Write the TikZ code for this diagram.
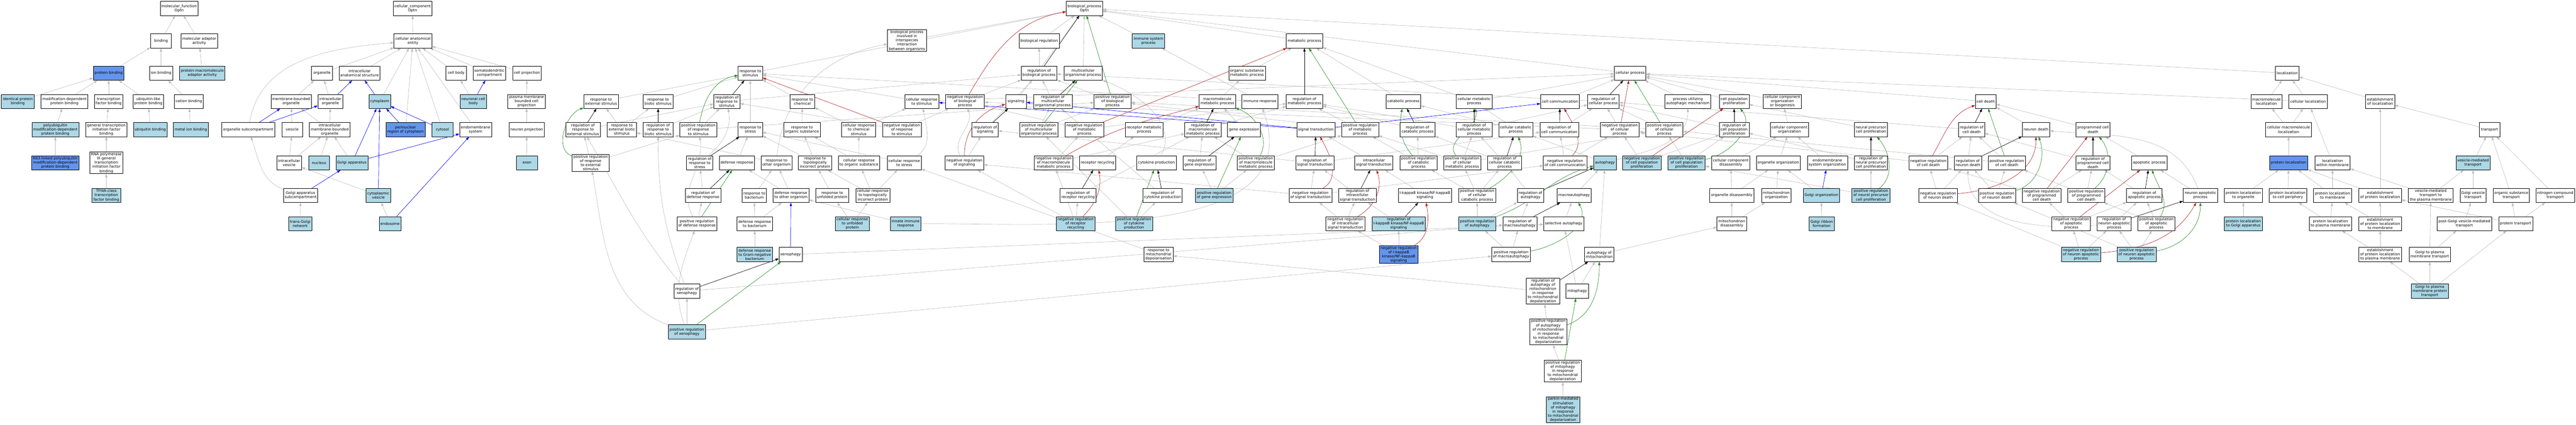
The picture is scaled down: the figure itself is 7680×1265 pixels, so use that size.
\documentclass[tikz,border=0pt]{standalone}
\usepackage{fontspec}
\newfontfamily\gofont{DejaVu Sans}
\usetikzlibrary{arrows.meta,backgrounds}
\definecolor{lblue}{HTML}{ADD8E6}
\definecolor{dblue}{HTML}{6495ED}
\definecolor{egrey}{HTML}{BEBEBE}
\definecolor{egreen}{HTML}{228B22}
\definecolor{ereddish}{HTML}{B22222}
\definecolor{eblue}{HTML}{0000FF}
\begin{document}
\begin{tikzpicture}[x=1pt,y=1pt,
  gobox/.style={draw=black,line width=1pt,rectangle,align=center,
    font={\gofont\fontsize{11}{12.5}\selectfont},inner xsep=4pt,inner ysep=2pt,
    minimum height=42pt,minimum width=62pt},
  nw/.style={gobox,fill=white},
  nlb/.style={gobox,fill=lblue},
  ndb/.style={gobox,fill=dblue},
  edgebase/.style={line width=1pt,-{Triangle[length=10pt,width=7pt]}},
  egr/.style={edgebase,draw=egrey},
  eblu/.style={edgebase,draw=eblue},
  eblk/.style={edgebase,draw=black},
  egrn/.style={edgebase,draw=egreen},
  ered/.style={edgebase,draw=ereddish}]
\useasboundingbox (0,0) rectangle (7680,-1265);
% ---------------- molecular function
\node[nw] (mf) at (534,-25) {molecular\_function\\Optn};
\node[nw] (bind) at (480,-122) {binding};
\node[nw] (mad) at (594,-122) {molecular adaptor\\activity};
\node[ndb] (pb) at (324,-218) {protein binding};
\node[nw] (ionb) at (480,-218) {ion binding};
\node[nlb] (pma) at (603,-218) {protein-macromolecule\\adaptor activity};
\node[nlb] (ipb) at (53,-302) {identical protein\\binding};
\node[nw] (mdpb) at (192,-302) {modification-dependent\\protein binding};
\node[nw] (tfb) at (324,-302) {transcription\\factor binding};
\node[nw] (ulpb) at (442,-302) {ubiquitin-like\\protein binding};
\node[nw] (catb) at (563,-302) {cation binding};
\node[nlb] (pumd) at (165,-386) {polyubiquitin\\modification-dependent\\protein binding};
\node[nw] (gtif) at (317,-386) {general transcription\\initiation factor\\binding};
\node[nlb] (ubb) at (448,-386) {ubiquitin binding};
\node[nlb] (mib) at (569,-386) {metal ion binding};
\node[ndb] (k63) at (165,-485) {K63-linked polyubiquitin\\modification-dependent\\protein binding};
\node[nw] (rp3) at (317,-485) {RNA polymerase\\III general\\transcription\\initiation factor\\binding};
\node[nlb] (tf3) at (317,-582) {TFIIIA-class\\transcription\\factor binding};
% ---------------- cellular component
\node[nw] (cc) at (1230,-25) {cellular\_component\\Optn};
\node[nw] (cae) at (1231,-122) {cellular anatomical\\entity};
\node[nw] (org) at (960,-218) {organelle};
\node[nw] (ias) at (1072,-218) {intracellular\\anatomical structure};
\node[nw] (cbody) at (1360,-218) {cell body};
\node[nw] (sdc) at (1459,-218) {somatodendritic\\compartment};
\node[nw] (cproj) at (1571,-218) {cell projection};
\node[nw] (mbo) at (868,-302) {membrane-bounded\\organelle};
\node[nw] (io) at (985,-302) {intracellular\\organelle};
\node[nlb] (cyto) at (1132,-302) {cytoplasm};
\node[nlb] (ncb) at (1411,-302) {neuronal cell\\body};
\node[nw] (pmbcp) at (1570,-302) {plasma membrane\\bounded cell\\projection};
\node[nw] (osc) at (740,-386) {organelle subcompartment};
\node[nw] (ves) at (871,-386) {vesicle};
\node[nw] (imbo) at (983,-386) {intracellular\\membrane-bounded\\organelle};
\node[ndb] (pnr) at (1209,-386) {perinuclear\\region of cytoplasm};
\node[nlb] (cytosol) at (1319,-386) {cytosol};
\node[nw] (ems) at (1418,-386) {endomembrane\\system};
\node[nw] (np) at (1570,-386) {neuron projection};
\node[nw] (iv) at (862,-485) {intracellular\\vesicle};
\node[nlb] (nuc) at (951,-485) {nucleus};
\node[nlb] (ga) at (1049,-485) {Golgi apparatus};
\node[nlb] (axon) at (1571,-485) {axon};
\node[nw] (gas) at (896,-582) {Golgi apparatus\\subcompartment};
\node[nlb] (cv) at (1128,-582) {cytoplasmic\\vesicle};
\node[nlb] (tgn) at (895,-666) {trans-Golgi\\network};
\node[nlb] (endo) at (1163,-666) {endosome};
% ---------------- biological process
\node[nw] (rext) at (1792,-302) {response to\\external stimulus};
\node[nw] (rrext) at (1738,-386) {regulation of\\response to\\external stimulus};
\node[nw] (rebs) at (1854,-386) {response to\\external biotic\\stimulus};
\node[nw] (prrext) at (1761,-485) {positive regulation\\of response\\to external\\stimulus};
\node[nw] (rbs) at (1962,-302) {response to\\biotic stimulus};
\node[nw] (rrbs) at (1962,-386) {regulation of\\response to\\biotic stimulus};
\node[nw] (rs) at (2237,-218) {response to\\stimulus};
\node[nw] (rrs) at (2167,-302) {regulation of\\response to\\stimulus};
\node[nw] (rchem) at (2392,-302) {response to\\chemical};
\node[nw] (crchem) at (2560,-386) {cellular response\\to chemical\\stimulus};
\node[nw] (prrs) at (2082,-386) {positive regulation\\of response\\to stimulus};
\node[nw] (rstress) at (2237,-386) {response to\\stress};
\node[nw] (ros) at (2391,-386) {response to\\organic substance};
\node[nw] (rrstress) at (2086,-485) {regulation of\\response to\\stress};
\node[nw] (dr) at (2197,-485) {defense response};
\node[nw] (roo) at (2315,-485) {response to\\other organism};
\node[nw] (rtip) at (2430,-485) {response to\\topologically\\incorrect protein};
\node[nw] (cros) at (2561,-485) {cellular response\\to organic substance};
\node[nw] (rdr) at (2096,-582) {regulation of\\defense response};
\node[nw] (rbac) at (2249,-582) {response to\\bacterium};
\node[nw] (droo) at (2358,-582) {defense response\\to other organism};
\node[nw] (rup) at (2481,-582) {response to\\unfolded protein};
\node[nw] (crtip) at (2602,-582) {cellular response\\to topologically\\incorrect protein};
\node[nw] (prdr) at (2078,-666) {positive regulation\\of defense response};
\node[nw] (drbac) at (2250,-666) {defense response\\to bacterium};
\node[nlb] (crup) at (2541,-666) {cellular response\\to unfolded\\protein};
\node[nlb] (drgn) at (2250,-758) {defense response\\to Gram-negative\\bacterium};
\node[nw] (xeno) at (2357,-758) {xenophagy};
\node[nw] (rxeno) at (2048,-867) {regulation of\\xenophagy};
\node[nlb] (pxeno) at (2048,-988) {positive regulation\\of xenophagy};
\node[nw] (bp) at (3233,-25) {biological\_process\\Optn};
\node[nw] (bpii) at (2704,-121) {biological process\\involved in\\interspecies\\interaction\\between organisms};
\node[nw] (breg) at (3098,-122) {biological regulation};
\node[nw] (rbp) at (3098,-218) {regulation of\\biological process};
\node[nw] (mop) at (3229,-218) {multicellular\\organismal process};
\node[nw] (crs) at (2748,-302) {cellular response\\to stimulus};
\node[nw] (nrbp) at (2877,-302) {negative regulation\\of biological\\process};
\node[nw] (sig) at (3029,-302) {signaling};
\node[nw] (rmop) at (3139,-302) {regulation of\\multicellular\\organismal process};
\node[nw] (nrrs) at (2689,-386) {negative regulation\\of response\\to stimulus};
\node[nw] (rsig) at (2937,-386) {regulation of\\signaling};
\node[nw] (prmop) at (3097,-386) {positive regulation\\of multicellular\\organismal process};
\node[nw] (nrmp) at (3233,-386) {negative regulation\\of metabolic\\process};
\node[nw] (crstress) at (2696,-485) {cellular response\\to stress};
\node[nw] (nrsig) at (2875,-485) {negative regulation\\of signaling};
\node[nw] (nrmmp) at (3141,-485) {negative regulation\\of macromolecule\\metabolic process};
\node[nlb] (iir) at (2700,-666) {innate immune\\response};
\node[nw] (rrr) at (3214,-582) {regulation of\\receptor recycling};
\node[nlb] (nrrr) at (3207,-666) {negative regulation\\of receptor\\recycling};
\node[nlb] (isp) at (3424,-122) {immune system\\process};
\node[nw] (mp) at (3889,-122) {metabolic process};
\node[nw] (prbp) at (3317,-302) {positive regulation\\of biological\\process};
\node[nw] (osmp) at (3718,-218) {organic substance\\metabolic process};
\node[nw] (mmp) at (3629,-302) {macromolecule\\metabolic process};
\node[nw] (ir) at (3756,-302) {immune response};
\node[nw] (rmp) at (3889,-302) {regulation of\\metabolic process};
\node[nw] (rmetp) at (3411,-386) {receptor metabolic\\process};
\node[nw] (rmmp) at (3586,-386) {regulation of\\macromolecule\\metabolic process};
\node[nw] (ge) at (3709,-386) {gene expression};
\node[nw] (rr) at (3272,-485) {receptor recycling};
\node[nw] (cp) at (3448,-485) {cytokine production};
\node[nw] (rge) at (3576,-485) {regulation of\\gene expression};
\node[nw] (prmmp) at (3744,-485) {positive regulation\\of macromolecule\\metabolic process};
\node[nw] (rcp) at (3466,-582) {regulation of\\cytokine production};
\node[nlb] (prge) at (3620,-582) {positive regulation\\of gene expression};
\node[nlb] (prcp) at (3381,-666) {positive regulation\\of cytokine\\production};
\node[nw] (rmd) at (3454,-758) {response to\\mitochondrial\\depolarisation};
\node[nw] (st) at (3923,-386) {signal transduction};
\node[nw] (prmp) at (4055,-386) {positive regulation\\of metabolic\\process};
\node[nw] (catp) at (4184,-302) {catabolic process};
\node[nw] (cmp) at (4395,-302) {cellular metabolic\\process};
\node[nw] (rcatp) at (4226,-386) {regulation of\\catabolic process};
\node[nw] (rcmp) at (4395,-386) {regulation of\\cellular metabolic\\process};
\node[nw] (ccatp) at (4519,-386) {cellular catabolic\\process};
\node[nw] (rst) at (3920,-485) {regulation of\\signal transduction};
\node[nw] (ist) at (4096,-485) {intracellular\\signal transduction};
\node[nw] (prcatp) at (4229,-485) {positive regulation\\of catabolic\\process};
\node[nw] (prcmp) at (4359,-485) {positive regulation\\of cellular\\metabolic process};
\node[nw] (rccatp) at (4486,-485) {regulation of\\cellular catabolic\\process};
\node[nw] (nrst) at (3907,-582) {negative regulation\\of signal transduction};
\node[nw] (rist) at (4047,-582) {regulation of\\intracellular\\signal transduction};
\node[nw] (ikk) at (4248,-582) {I-kappaB kinase/NF-kappaB\\signaling};
\node[nw] (prccatp) at (4404,-582) {positive regulation\\of cellular\\catabolic process};
\node[nw] (nrist) at (4011,-666) {negative regulation\\of intracellular\\signal transduction};
\node[nlb] (rikk) at (4170,-666) {regulation of\\I-kappaB kinase/NF-kappaB\\signaling};
\node[nlb] (pra) at (4404,-666) {positive regulation\\of autophagy};
\node[ndb] (nrikk) at (4170,-758) {negative regulation\\of I-kappaB\\kinase/NF-kappaB\\signaling};
\node[nw] (prma) at (4505,-758) {positive regulation\\of macroautophagy};
\node[nw] (cellp) at (4860,-218) {cellular process};
\node[nw] (ccom) at (4651,-302) {cell communication};
\node[nw] (rcellp) at (4780,-302) {regulation of\\cellular process};
\node[nw] (puam) at (5032,-302) {process utilizing\\autophagic mechanism};
\node[nw] (rccom) at (4649,-386) {regulation of\\cell communication};
\node[nw] (nrcellp) at (4829,-386) {negative regulation\\of cellular\\process};
\node[nw] (prcellp) at (4962,-386) {positive regulation\\of cellular\\process};
\node[nw] (nrccom) at (4666,-485) {negative regulation\\of cell communication};
\node[nlb] (aut) at (4785,-485) {autophagy};
\node[nlb] (nrcpp) at (4895,-485) {negative regulation\\of cell population\\proliferation};
\node[nlb] (prcpp) at (5028,-485) {positive regulation\\of cell population\\proliferation};
\node[nw] (ccd) at (5160,-485) {cellular component\\disassembly};
\node[nw] (ra) at (4563,-582) {regulation of\\autophagy};
\node[nw] (ma) at (4693,-582) {macroautophagy};
\node[nw] (od) at (5163,-582) {organelle disassembly};
\node[nw] (rma) at (4531,-666) {regulation of\\macroautophagy};
\node[nw] (sa) at (4662,-666) {selective autophagy};
\node[nw] (md) at (5163,-666) {mitochondrion\\disassembly};
\node[nw] (aom) at (4768,-758) {autophagy of\\mitochondrion};
\node[nw] (raom) at (4600,-867) {regulation of\\autophagy of\\mitochondrion\\in response\\to mitochondrial\\depolarization};
\node[nw] (mitoph) at (4702,-867) {mitophagy};
\node[nw] (praom) at (4616,-988) {positive regulation\\of autophagy\\of mitochondrion\\in response\\to mitochondrial\\depolarization};
\node[nw] (prmit) at (4659,-1105) {positive regulation\\of mitophagy\\in response\\to mitochondrial\\depolarization};
\node[nlb] (parkin) at (4660,-1220) {parkin-mediated\\stimulation\\of mitophagy\\in response\\to mitochondrial\\depolarization};
\node[nw] (cpp) at (5170,-302) {cell population\\proliferation};
\node[nw] (ccob) at (5314,-302) {cellular component\\organization\\or biogenesis};
\node[nw] (rcpp) at (5170,-386) {regulation of\\cell population\\proliferation};
\node[nw] (cco) at (5335,-386) {cellular component\\organization};
\node[nw] (npcp) at (5578,-386) {neural precursor\\cell proliferation};
\node[nw] (oo) at (5302,-485) {organelle organization};
\node[nw] (emso) at (5448,-485) {endomembrane\\system organization};
\node[nw] (rnpcp) at (5578,-485) {regulation of\\neural precursor\\cell proliferation};
\node[nw] (nrcd) at (5749,-485) {negative regulation\\of cell death};
\node[nw] (mo) at (5296,-582) {mitochondrion\\organization};
\node[nlb] (gorg) at (5430,-582) {Golgi organization};
\node[nlb] (pnpcp) at (5578,-582) {positive regulation\\of neural precursor\\cell proliferation};
\node[nw] (nrnd) at (5778,-582) {negative regulation\\of neuron death};
\node[nlb] (grf) at (5431,-666) {Golgi ribbon\\formation};
\node[nw] (cd) at (5920,-302) {cell death};
\node[nw] (rcd) at (5878,-386) {regulation of\\cell death};
\node[nw] (nd) at (6070,-386) {neuron death};
\node[nw] (pcd) at (6240,-386) {programmed cell\\death};
\node[nw] (rnd) at (5867,-485) {regulation of\\neuron death};
\node[nw] (prcd) at (5983,-485) {positive regulation\\of cell death};
\node[nw] (rpcd) at (6240,-485) {regulation of\\programmed cell\\death};
\node[nw] (ap) at (6408,-485) {apoptotic process};
\node[nw] (prnd) at (5954,-582) {positive regulation\\of neuron death};
\node[nw] (nrpcd) at (6087,-582) {negative regulation\\of programmed\\cell death};
\node[nw] (prpcd) at (6220,-582) {positive regulation\\of programmed\\cell death};
\node[nw] (rap) at (6393,-582) {regulation of\\apoptotic process};
\node[nw] (nrap) at (6175,-666) {negative regulation\\of apoptotic\\process};
\node[nw] (rnap) at (6303,-666) {regulation of\\neuron apoptotic\\process};
\node[nw] (prap) at (6429,-666) {positive regulation\\of apoptotic\\process};
\node[nlb] (nrnap) at (6204,-758) {negative regulation\\of neuron apoptotic\\process};
\node[nlb] (prnap) at (6370,-758) {positive regulation\\of neuron apoptotic\\process};
\node[nw] (nap) at (6560,-582) {neuron apoptotic\\process};
\node[nw] (loc) at (6819,-218) {localization};
\node[nw] (mloc) at (6757,-302) {macromolecule\\localization};
\node[nw] (cloc) at (6881,-302) {cellular localization};
\node[nw] (cmloc) at (6823,-386) {cellular macromolecule\\localization};
\node[ndb] (ploc) at (6823,-485) {protein localization};
\node[nw] (lwm) at (6954,-485) {localization\\within membrane};
\node[nw] (plo) at (6688,-582) {protein localization\\to organelle};
\node[nw] (plcp) at (6821,-582) {protein localization\\to cell periphery};
\node[nw] (plm) at (6954,-582) {protein localization\\to membrane};
\node[nlb] (plg) at (6688,-666) {protein localization\\to Golgi apparatus};
\node[nw] (plpm) at (6948,-666) {protein localization\\to plasma membrane};
\node[nw] (eloc) at (7096,-302) {establishment\\of localization};
\node[nw] (trans) at (7422,-386) {transport};
\node[nlb] (vmt) at (7373,-485) {vesicle-mediated\\transport};
\node[nw] (epl) at (7096,-582) {establishment\\of protein localization};
\node[nw] (vmtpm) at (7247,-582) {vesicle-mediated\\transport to\\the plasma membrane};
\node[nw] (gvt) at (7373,-582) {Golgi vesicle\\transport};
\node[nw] (ost) at (7487,-582) {organic substance\\transport};
\node[nw] (nct) at (7618,-582) {nitrogen compound\\transport};
\node[nw] (eplm) at (7096,-666) {establishment\\of protein localization\\to membrane};
\node[nw] (pgvt) at (7347,-666) {post-Golgi vesicle-mediated\\transport};
\node[nw] (ptr) at (7500,-666) {protein transport};
\node[nw] (eplpm) at (7096,-758) {establishment\\of protein localization\\to plasma membrane};
\node[nw] (gpmt) at (7244,-758) {Golgi to plasma\\membrane transport};
\node[nlb] (gpmpt) at (7244,-867) {Golgi to plasma\\membrane protein\\transport};
% ---------------- edges
\begin{pgfonlayer}{background}
\fill[white] (0,0) rectangle (7680,-1265);
\foreach \a/\b in {bind/mf, mad/mf, pb/bind, ionb/bind, pma/mad, ipb/pb, mdpb/pb, tfb/pb, ulpb/pb, catb/ionb, pumd/mdpb, gtif/tfb, ubb/ulpb, mib/catb, k63/pumd, rp3/gtif, tf3/rp3,
 cae/cc, org/cae, ias/cae, cyto/cae, pnr/cae, cytosol/cae, ems/cae, cbody/cae, sdc/cae, cproj/cae, mbo/org, io/org, ves/mbo, imbo/mbo, imbo/io, iv/ves, iv/imbo, nuc/imbo, ga/imbo, cv/iv, tgn/gas, endo/cv, ncb/cbody, pmbcp/cproj, np/pmbcp, axon/np,
 rext/rs, rrext/rrs, prrext/rrext, prrext/prrs, rebs/rext, rebs/rbs, roo/rebs, rxeno/rma, pxeno/rxeno, pxeno/prma, rrbs/rrs, rbs/rs, rrs/rbp, prrs/rrs, prrs/prbp, rdr/rrstress, prdr/rdr, dr/rstress, rstress/rs, rchem/rs, ros/rchem, crchem/rchem, crchem/crs, rtip/rstress, rtip/ros, cros/ros, cros/crchem, rbac/roo, droo/dr, droo/roo, rup/rtip, crtip/rtip, crtip/crstress, crtip/cros, drbac/rbac, drbac/droo, crup/rup, crup/crtip, drgn/drbac, xeno/sa,
 bpii/bp, rs/bp, breg/bp, rbp/breg, mop/bp, isp/bp, mp/bp, cellp/bp, loc/bp, sig/bp,
 prbp/rbp, nrbp/rbp, rmop/rbp, rsig/rbp, prmop/rmop, prmop/prbp, crs/rs, crs/cellp, nrrs/rrs, nrrs/nrbp, crstress/rstress, nrsig/rsig, nrmmp/rmmp, nrmmp/nrmp, nrmp/nrbp, nrmp/rmp, rrr/rmmp, nrrr/rrr, nrrr/nrmmp, nrrr/nrsig, rr/rmetp, rmetp/mmp, rcp/rmop, prcp/rcp, prcp/prmop, rge/rmmp, prge/rge, prge/prmmp, prmmp/rmmp, prmmp/prmp, rmmp/rmp, ge/mmp, mmp/osmp, osmp/mp, ir/isp, ir/rs, iir/droo, rmd/crstress, raom/rmd, prmp/rmp, prmp/prbp, catp/mp, cmp/mp, cmp/cellp, rcatp/rmp, rcmp/rmp, rcmp/rcellp, ccatp/catp, ccatp/cmp, rst/rsig, rst/rccom, ist/st, prcatp/rcatp, prcatp/prmp, prcmp/rcmp, prcmp/prmp, prcmp/prcellp, rccatp/rcatp, rccatp/rcmp, nrst/rst, nrst/nrsig, nrst/nrccom, rist/rst, ikk/ist, prccatp/prcmp, prccatp/rccatp, prccatp/prcatp, nrist/rist, nrist/nrst, rikk/rist, pra/prccatp, pra/ra, nrikk/rikk, nrikk/nrist, prma/rma, prma/pra,
 rcellp/rbp, ccom/cellp, puam/cellp, rccom/rcellp, nrcellp/rcellp, nrcellp/nrbp, prcellp/rcellp, prcellp/prbp, nrccom/rccom, nrccom/nrcellp, aut/ccatp, nrcpp/rcpp, nrcpp/nrcellp, prcpp/rcpp, prcpp/prcellp, ccd/cco, ra/rccatp, ma/aut, od/ccd, od/oo, rma/ra, sa/ma, md/od, md/mo, aom/aut, aom/md, mitoph/aom, mitoph/sa, praom/raom, prmit/praom, parkin/prmit,
 cpp/cellp, ccob/cellp, rcpp/rcellp, cco/ccob, npcp/cpp, oo/cco, emso/cco, rnpcp/rcpp, nrcd/rcd, nrcd/nrcellp, mo/oo, gorg/oo, pnpcp/rnpcp, pnpcp/prcpp, nrnd/rnd, nrnd/nrcd, grf/gorg,
 cd/cellp, rcd/rcellp, nd/cd, pcd/cd, rnd/rcd, prcd/rcd, prcd/prcellp, rpcd/rcd, ap/pcd, prnd/rnd, prnd/prcd, nrpcd/rpcd, nrpcd/nrcd, prpcd/rpcd, prpcd/prcd, rap/rpcd, nrap/nrpcd, nrap/rap, rnap/rap, prap/prpcd, prap/rap, nrnap/nrap, nrnap/rnap, nrnap/nrnd, prnap/rnap, prnap/prap, prnap/prnd, nap/ap,
 mloc/loc, cloc/loc, cloc/cellp, cmloc/mloc, cmloc/cloc, ploc/cmloc, lwm/cloc, plo/ploc, plcp/ploc, plm/ploc, plm/lwm, plg/plo, plpm/plcp, plpm/plm, eloc/loc, trans/eloc, vmt/trans, epl/eloc, epl/ploc, vmtpm/vmt, vmtpm/lwm, gvt/vmt, ost/trans, nct/trans, eplm/epl, eplm/plm, pgvt/gvt, ptr/ost, ptr/nct, ptr/epl, eplpm/eplm, eplpm/plpm, gpmt/pgvt, gpmt/vmtpm, gpmpt/gpmt, gpmpt/eplpm, gpmpt/ptr}
 \draw[egr] (\a) -- (\b);
\draw[egr] (osc) to[out=80,in=185] (cae);
\draw[egr] (gas) to[out=160,in=-70] (osc);
\draw[egr] (rxeno) to[out=110,in=-90] (rrbs);
\draw[egr] (rxeno) to[out=130,in=-60] (rrext);
\draw[egr] (pxeno) to[out=160,in=-80] (prrext);
\draw[egr] (pxeno) to[out=110,in=-110] (prdr);
\draw[egr] (prdr) to[out=120,in=-80] (prrs);
\draw[egr] (rrstress) to[out=40,in=-80] (rrs);
\draw[egr] (roo) to[out=85,in=190] (bpii);
\draw[egr] (crstress) to[out=30,in=-80] (crs);
\draw[egr] (nrsig) to[out=120,in=-70] (nrbp);
\draw[egr] (cp) to[out=60,in=-20] (mop);
\draw[egr] (iir) to[out=0,in=-70] (ir);
\draw[egr] (aut) to[out=15,in=-90] (puam);
\draw[egr] (rnap) to[out=185,in=-90] (rnd);
\draw[egr] (nap) to[out=110,in=-5] (nd);
\foreach \a/\b in {io/ias, cyto/ias, osc/mbo, osc/io, pnr/cyto, cytosol/cyto, ga/cyto, ga/ems, gas/ga, cv/cyto, endo/ems, ncb/sdc, xeno/droo, st/sig, st/crs, st/ccom, gorg/emso}
 \draw[eblu] (\a) -- (\b);
\foreach \a/\b in {rrext/rext, rrbs/rbs, rrs/rs, rrstress/rstress, rdr/dr, rxeno/xeno, rbp/bp, rmop/mop, rsig/sig, rrr/rr, rcp/cp, rge/ge, rmmp/mmp, rmp/mp, rcatp/catp, rcmp/cmp, rccatp/ccatp, rst/st, rist/ist, rikk/ikk, rcellp/cellp, rccom/ccom, ra/aut, rma/ma, raom/aom, rcpp/cpp, rnpcp/npcp, rcd/cd, rnd/nd, rpcd/pcd, rap/ap, rnap/nap}
 \draw[eblk] (\a) -- (\b);
\foreach \a/\b in {pxeno/xeno, prdr/dr, prbp/bp, prmop/mop, prcp/cp, prge/ge, prmp/mp, prmit/mitoph, prcellp/cellp, prcd/cd}
 \draw[egrn] (\a) -- (\b);
\draw[egrn] (prrext) to[out=160,in=200] (rext);
\draw[egrn] (prrs) to[out=80,in=190] (rs);
\draw[egrn] (prmmp) to[out=60,in=-20] (mmp);
\draw[egrn] (prcatp) to[out=130,in=-100] (catp);
\draw[egrn] (prcmp) to[out=130,in=-80] (cmp);
\draw[egrn] (prccatp) to[out=30,in=-70] (ccatp);
\draw[egrn] (pra) to[out=20,in=195] (aut);
\draw[egrn] (prma) to[out=10,in=-60] (ma);
\draw[egrn] (praom) to[out=20,in=-90] (aom);
\draw[egrn] (prcpp) to[out=10,in=-50] (cpp);
\draw[egrn] (pnpcp) to[out=40,in=-50] (npcp);
\draw[egrn] (prnd) to[out=15,in=-70] (nd);
\draw[egrn] (prpcd) to[out=40,in=-50] (pcd);
\draw[egrn] (prap) to[out=60,in=-70] (ap);
\draw[egrn] (prnap) to[out=10,in=-90] (nap);
\foreach \a/\b in {nrrs/rs, nrmp/mp, nrcellp/cellp, nrcpp/cpp, nrpcd/pcd, nrap/ap}
 \draw[ered] (\a) -- (\b);
\draw[ered] (nrbp) to[out=60,in=190] (bp);
\draw[ered] (nrsig) to[out=90,in=195] (sig);
\draw[ered] (nrmmp) to[out=30,in=195] (mmp);
\draw[ered] (nrrr) to[out=45,in=-80] (rr);
\draw[ered] (nrst) to[out=30,in=-60] (st);
\draw[ered] (nrist) to[out=30,in=-70] (ist);
\draw[ered] (nrikk) to[out=30,in=-80] (ikk);
\draw[ered] (nrccom) to[out=45,in=-60] (ccom);
\draw[ered] (nrcd) to[out=60,in=200] (cd);
\draw[ered] (nrnd) to[out=5,in=-90] (nd);
\draw[ered] (nrnap) to[out=5,in=-120] (nap);
\end{pgfonlayer}
\end{tikzpicture}
\end{document}
